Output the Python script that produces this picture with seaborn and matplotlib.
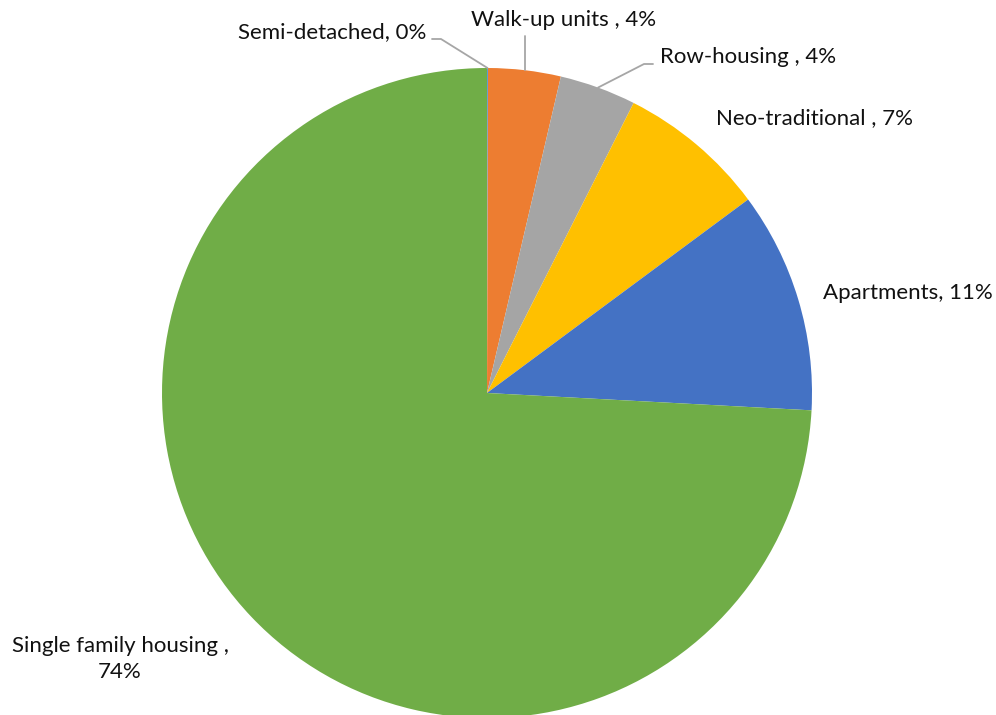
import numpy as np
import matplotlib
matplotlib.use("Agg")
import matplotlib.pyplot as plt
import seaborn as sns

# Housing type shares (%), in drawing order clockwise from 12 o'clock
categories = ["Semi-detached", "Walk-up units ", "Row-housing ", "Neo-traditional ",
              "Apartments", "Single family housing "]
shares = [0.05, 3.6, 3.8, 7.4, 11.0, 74.15]
colors = ["#5B9BD5", "#ED7D31", "#A5A5A5", "#FFC000", "#4472C4", "#70AD47"]

sns.set_theme(style="white")
plt.rcParams["font.family"] = ["Lato", "DejaVu Sans"]

W, H = 996, 715
fig = plt.figure(figsize=(W / 100, H / 100), dpi=100)
ax = fig.add_axes([0, 0, 1, 1])

cx, cy, r = 487, H - 393, 325
wedges, _ = ax.pie(shares, colors=sns.color_palette(colors), startangle=90,
                   counterclock=False, center=(cx, cy), radius=r,
                   wedgeprops=dict(linewidth=0))
ax.set_xlim(0, W)
ax.set_ylim(0, H)
ax.set_aspect("equal")
ax.axis("off")

total = sum(shares)
labels = [f"{c}, {round(v / total * 100):.0f}%" for c, v in zip(categories, shares)]
labels[-1] = labels[-1].replace(", ", ",\n")

# label placement: (x, y in pixels from top, ha)
label_pos = [(426, 32, "right"), (471, 20, "left"), (660, 57, "left"),
             (716, 118, "left"), (823, 293, "left"), (120, 659, "center")]

txt_kw = dict(fontsize=16, color="#111111", va="center")
for lab, (x, y, ha) in zip(labels, label_pos):
    ax.text(x, H - y, lab, ha=ha, multialignment="center", linespacing=1.35, **txt_kw)


def edge_point(w):
    mid = np.deg2rad((w.theta1 + w.theta2) / 2)
    return cx + r * np.cos(mid), cy + r * np.sin(mid)


# leader lines for the small slices near the top
lc = dict(color="#A6A6A6", lw=1.3)
px, py = edge_point(wedges[0])
ax.plot([432, 441, px], [H - 39, H - 39, py], **lc)
px, py = edge_point(wedges[1])
ax.plot([px, px], [H - 36, py], **lc)
px, py = edge_point(wedges[2])
ax.plot([653, 644, px], [H - 64, H - 64, py], **lc)

fig.savefig("out.png", dpi=100, facecolor="white")
